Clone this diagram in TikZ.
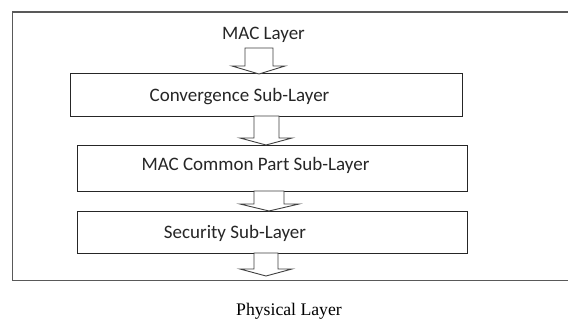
\documentclass[tikz,border=0pt]{standalone}
\usepackage{fontspec}
\setmainfont{Carlito}
\newfontfamily\serifphys{Liberation Serif}
\begin{document}
\begin{tikzpicture}[x=1pt,y=-1pt,
  layerbox/.style={draw=black!85,line width=1pt,fill=white},
  blockarrow/.style={draw=black!75,line width=0.9pt,fill=white,line join=miter},
  lbl/.style={inner sep=0pt,font=\fontsize{19}{22}\selectfont,text=black!85},
  frame/.style={draw=black!65,line width=1.6pt}]
\useasboundingbox (0,0) rectangle (568,321);
\fill[white] (0,0) rectangle (568,321);
% outer frame (right edge lies beyond the picture)
\draw[frame] (575,12) -- (12.5,12) -- (12.5,280.5) -- (575,280.5);
% layer boxes
\draw[layerbox] (70,74) rectangle (462,116);
\draw[layerbox] (77,145) rectangle (467,191);
\draw[layerbox] (77,211) rectangle (467,253);
% block arrows
\draw[blockarrow] (245,48) -- (273,48) -- (273,66) -- (285,66) -- (259,74) -- (232,66) -- (245,66) -- cycle;
\draw[blockarrow] (254,116) -- (279,116) -- (279,138) -- (292,138) -- (266,145) -- (240,138) -- (254,138) -- cycle;
\draw[blockarrow] (254,191) -- (284,191) -- (284,204) -- (299,204) -- (269,211) -- (240,204) -- (254,204) -- cycle;
\draw[blockarrow] (254,253) -- (278,253) -- (278,269) -- (292,269) -- (266,276) -- (240,269) -- (254,269) -- cycle;
% labels
\node[lbl] (mac) at (263.5,35) {MAC Layer};
\node[lbl] (conv) at (239.5,97) {Convergence Sub-Layer};
\node[lbl] (mcps) at (255.5,165) {MAC Common Part Sub-Layer};
\node[lbl] (sec) at (235,233) {Security Sub-Layer};
\node[inner sep=0pt,font=\serifphys\fontsize{17.7}{20}\selectfont] (phy) at (289,311) {Physical Layer};
\end{tikzpicture}
\end{document}
